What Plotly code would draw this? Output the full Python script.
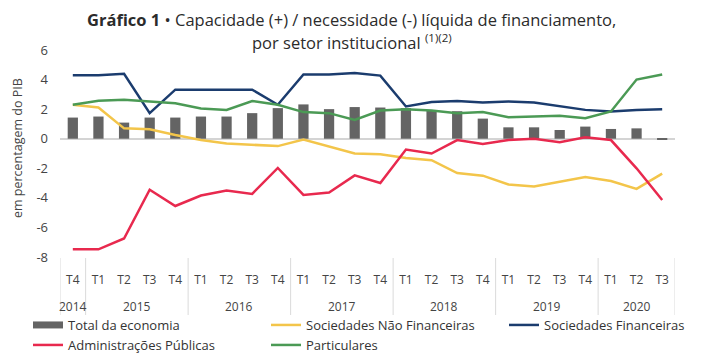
import plotly.graph_objects as go

years = ["2014"] + ["2015"] * 4 + ["2016"] * 4 + ["2017"] * 4 + ["2018"] * 4 + ["2019"] * 4 + ["2020"] * 3
quarters = ["T4"] + ["T1", "T2", "T3", "T4"] * 5 + ["T1", "T2", "T3"]

total_economia = [1.43, 1.50, 1.09, 1.43, 1.43, 1.50, 1.50, 1.73, 2.07, 2.32, 2.00, 2.14,
                  2.11, 2.07, 1.91, 1.86, 1.36, 0.77, 0.77, 0.59, 0.82, 0.66, 0.70, -0.08]
soc_nao_fin = [2.30, 2.11, 0.70, 0.64, 0.25, -0.09, -0.32, -0.43, -0.50, -0.05, -0.55, -1.00,
               -1.05, -1.30, -1.45, -2.32, -2.50, -3.09, -3.23, -2.93, -2.59, -2.86, -3.39, -2.36]
soc_fin = [4.30, 4.30, 4.39, 1.73, 3.32, 3.32, 3.36, 3.32, 2.30, 4.34, 4.34, 4.45,
           4.27, 2.18, 2.48, 2.55, 2.45, 2.52, 2.45, 2.18, 1.95, 1.84, 1.95, 2.00]
admin_pub = [-7.48, -7.48, -6.75, -3.45, -4.55, -3.84, -3.50, -3.73, -1.98, -3.80, -3.64, -2.48,
             -3.00, -0.73, -1.00, -0.09, -0.36, -0.09, 0.00, -0.23, 0.09, -0.09, -2.00, -4.14]
particulares = [2.30, 2.57, 2.64, 2.52, 2.40, 2.05, 1.95, 2.55, 2.30, 1.80, 1.73, 1.27,
                1.91, 2.00, 1.91, 1.73, 1.80, 1.45, 1.50, 1.55, 1.39, 1.84, 4.00, 4.34]

y_ticks = [-8, -6, -4, -2, 0, 2, 4, 6]
y_tick_text = ["-8", "-6", "-4", "-2", "0", "2", "4", "6"]

title_line1 = "<b>Gráfico 1</b> • Capacidade (+) / necessidade (-) líquida de financiamento,"
title_line2 = "por setor institucional <sup>(1)(2)</sup>"
y_title = "em percentagem do PIB"

FONT = "Open Sans, Noto Sans, sans-serif"
# the page body has an 8px default margin, so the figure is sized to fit the window
OFF = 8
W, H = 703 - OFF, 356 - OFF
ML, MR, MT, MB = 60 - OFF, 28, 50 - OFF, 99
plot_w = W - ML - MR
plot_h = H - MT - MB
bottom = H - MB


def py(y_screen):
    """screen pixel row -> paper y"""
    return (bottom - (y_screen - OFF)) / plot_h


def px(x_screen):
    return ((x_screen - OFF) - ML) / plot_w


idx = list(range(len(quarters)))

C_TOTAL = "#646464"
C_SNF = "#f3c54a"
C_SF = "#1b3c6e"
C_AP = "#e8294e"
C_PART = "#4b9a55"

fig = go.Figure()
fig.add_trace(go.Bar(x=idx, y=total_economia, name="Total da economia", showlegend=False,
                     marker=dict(color=C_TOTAL, line=dict(width=0)), width=0.4))
fig.add_trace(go.Scatter(x=[None], y=[None], name="Total da economia", mode="lines",
                         line=dict(color=C_TOTAL, width=7), legend="legend"))
fig.add_trace(go.Scatter(x=idx, y=soc_nao_fin, name="Sociedades Não Financeiras", mode="lines",
                         line=dict(color=C_SNF, width=2.5), legend="legend2"))
fig.add_trace(go.Scatter(x=idx, y=soc_fin, name="Sociedades Financeiras", mode="lines",
                         line=dict(color=C_SF, width=2.5), legend="legend3"))
fig.add_trace(go.Scatter(x=idx, y=particulares, name="Particulares", mode="lines",
                         line=dict(color=C_PART, width=2.5), legend="legend5"))
fig.add_trace(go.Scatter(x=idx, y=admin_pub, name="Administrações Públicas", mode="lines",
                         line=dict(color=C_AP, width=2.5), legend="legend4"))

# year labels and dividers, derived from the years list
groups = []
for i, yv in enumerate(years):
    if groups and groups[-1][0] == yv:
        groups[-1][2] = i
    else:
        groups.append([yv, i, i])

annotations = []
shapes = []
div_line = dict(color="#dadada", width=1)
for name, a, b in groups:
    annotations.append(dict(text=name, x=(a + b) / 2, xref="x", y=py(306), yref="paper",
                            showarrow=False, xanchor="center", yanchor="middle",
                            font=dict(size=12, color="#444444", family=FONT)))
    shapes.append(dict(type="line", xref="x", yref="paper", x0=a - 0.5, x1=a - 0.5,
                       y0=py(258), y1=py(315), line=div_line))
shapes.append(dict(type="line", xref="x", yref="paper", x0=groups[-1][2] + 0.5,
                   x1=groups[-1][2] + 0.5, y0=py(258), y1=py(315), line=div_line))

annotations.append(dict(text=y_title, textangle=-90, xref="paper", x=px(17), xanchor="center",
                        yref="paper", y=py(148), yanchor="middle", showarrow=False,
                        font=dict(size=12.5, color="#444444", family=FONT)))
annotations.append(dict(text=title_line1, xref="paper", x=px(351.5), xanchor="center",
                        yref="paper", y=py(19.5), yanchor="middle", showarrow=False,
                        font=dict(size=16.5, color="#2b2b2b", family=FONT)))
annotations.append(dict(text=title_line2, xref="paper", x=px(351.5), xanchor="center",
                        yref="paper", y=py(42), yanchor="middle", showarrow=False,
                        font=dict(size=16.5, color="#2b2b2b", family=FONT)))


def leg(x_fig, top_fig):
    return dict(orientation="h", xref="container", yref="container", xanchor="left",
                yanchor="top", x=x_fig / W, y=1 - top_fig / H,
                font=dict(size=13, color="#333333", family=FONT),
                itemwidth=30, tracegroupgap=0, bgcolor="rgba(0,0,0,0)")


fig.update_layout(
    width=W, height=H,
    margin=dict(l=ML, r=MR, t=MT, b=MB),
    paper_bgcolor="white", plot_bgcolor="white",
    font=dict(family=FONT, color="#444444", size=12),
    showlegend=True,
    legend=leg(20, 302),
    legend2=leg(258, 302),
    legend3=leg(496, 302),
    legend4=leg(20, 322),
    legend5=leg(258, 322),
    yaxis=dict(
        range=[-8, 6], tickvals=y_ticks, ticktext=y_tick_text,
        showgrid=False, zeroline=True, zerolinecolor="#d4d4d4", zerolinewidth=1.5,
        showline=False, ticks="", ticklabelstandoff=11, automargin=False,
        tickfont=dict(size=13, color="#444444"),
    ),
    xaxis=dict(
        range=[-0.5, len(quarters) - 0.5], tickvals=idx, ticktext=quarters,
        showgrid=False, zeroline=False, showline=False, ticks="", automargin=False,
        ticklabelstandoff=14, tickfont=dict(size=12, color="#444444"),
    ),
    annotations=annotations,
    shapes=shapes,
)

fig.write_html("out.html")
